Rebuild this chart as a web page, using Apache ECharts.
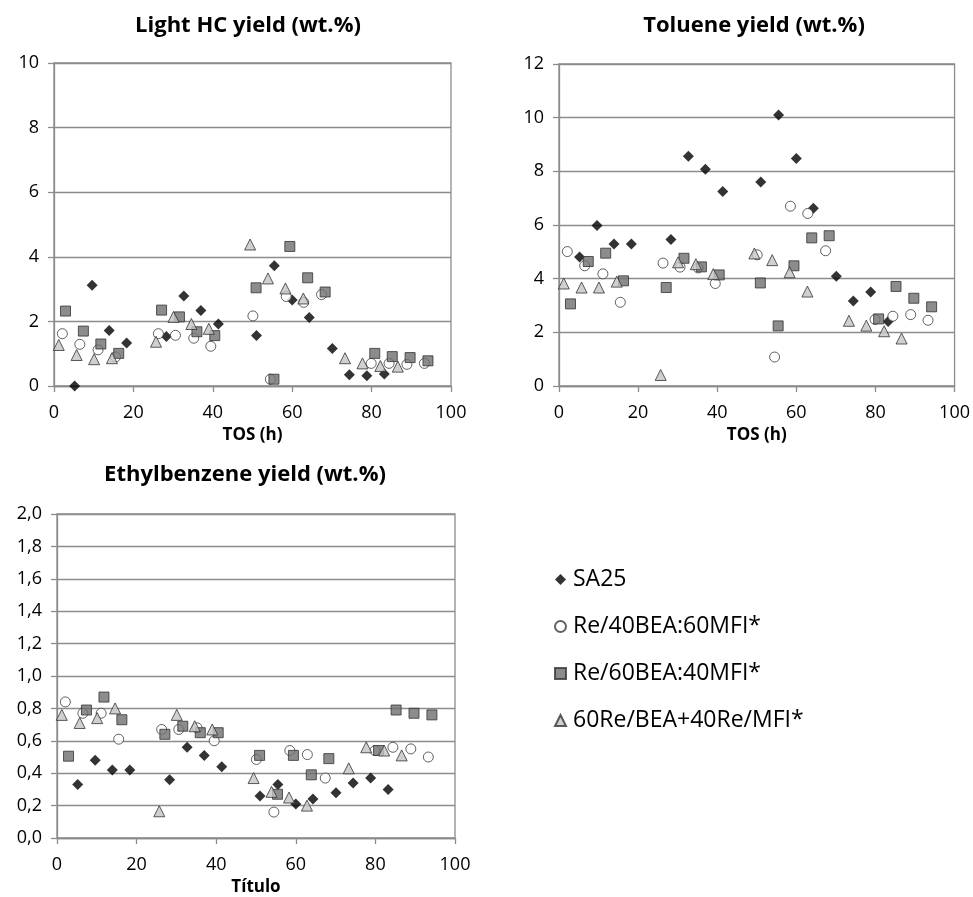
<!DOCTYPE html>
<html>
<head>
<meta charset="utf-8">
<script src="https://cdn.jsdelivr.net/npm/echarts@6/dist/echarts.min.js"></script>
<style>
  html, body { margin: 0; padding: 0; background: #fff; }
  #chart { width: 973px; height: 897px; }
</style>
</head>
<body>
<div id="chart"></div>
<script>
// Series names
const seriesNames = ['SA25', 'Re/40BEA:60MFI*', 'Re/60BEA:40MFI*', '60Re/BEA+40Re/MFI*'];

// Time on stream (h) for each catalyst
const tosSA25   = [5.2, 9.6, 13.9, 18.3, 28.3, 32.7, 37.0, 41.4, 51.0, 55.5, 60.0, 64.3, 70.1, 74.4, 78.8, 83.2];
const tosRe4060 = [2.1, 6.5, 11.1, 15.5, 26.3, 30.6, 35.2, 39.5, 50.1, 54.5, 58.5, 62.9, 67.4, 79.9, 84.4, 88.9, 93.3];
const tosRe6040 = [2.9, 7.4, 11.8, 16.3, 27.1, 31.6, 36.0, 40.5, 50.9, 55.4, 59.4, 63.9, 68.3, 80.8, 85.2, 89.7, 94.2];
const tosMix    = [1.2, 5.7, 10.1, 14.6, 25.7, 30.1, 34.6, 39.0, 49.4, 53.9, 58.3, 62.8, 73.3, 77.7, 82.2, 86.6];

// Light HC yield (wt.%)
const lightSA25   = [0, 3.12, 1.72, 1.33, 1.53, 2.79, 2.34, 1.92, 1.56, 3.72, 2.66, 2.12, 1.16, 0.35, 0.32, 0.37];
const lightRe4060 = [1.62, 1.29, 1.12, 0.9, 1.62, 1.57, 1.48, 1.23, 2.17, 0.21, 2.77, 2.59, 2.83, 0.70, 0.70, 0.67, 0.70];
const lightRe6040 = [2.32, 1.70, 1.30, 1.01, 2.35, 2.14, 1.68, 1.56, 3.04, 0.21, 4.32, 3.35, 2.91, 1.01, 0.91, 0.88, 0.78];
const lightMix    = [1.27, 0.96, 0.83, 0.86, 1.37, 2.14, 1.92, 1.77, 4.38, 3.33, 3.02, 2.71, 0.86, 0.70, 0.62, 0.60];

// Toluene yield (wt.%)
const tolSA25   = [4.81, 5.98, 5.29, 5.29, 5.46, 8.56, 8.08, 7.25, 7.60, 10.10, 8.48, 6.62, 4.09, 3.17, 3.50, 2.40];
const tolRe4060 = [5.01, 4.48, 4.18, 3.12, 4.58, 4.43, 4.40, 3.82, 4.89, 1.08, 6.70, 6.43, 5.04, 2.48, 2.60, 2.66, 2.45];
const tolRe6040 = [3.06, 4.64, 4.95, 3.92, 3.67, 4.76, 4.44, 4.14, 3.84, 2.24, 4.48, 5.52, 5.60, 2.50, 3.71, 3.27, 2.95];
const tolMix    = [3.82, 3.67, 3.67, 3.89, 0.41, 4.61, 4.54, 4.17, 4.94, 4.69, 4.24, 3.52, 2.43, 2.25, 2.04, 1.77];

// Ethylbenzene yield (wt.%)
const ebSA25   = [0.33, 0.48, 0.42, 0.42, 0.36, 0.56, 0.51, 0.44, 0.26, 0.33, 0.21, 0.24, 0.28, 0.34, 0.37, 0.30];
const ebRe4060 = [0.84, 0.77, 0.77, 0.61, 0.67, 0.67, 0.68, 0.60, 0.485, 0.16, 0.54, 0.515, 0.37, 0.54, 0.56, 0.55, 0.50];
const ebRe6040 = [0.505, 0.79, 0.87, 0.73, 0.64, 0.69, 0.65, 0.65, 0.51, 0.27, 0.51, 0.39, 0.49, 0.54, 0.79, 0.77, 0.76];
const ebMix    = [0.76, 0.71, 0.74, 0.80, 0.165, 0.76, 0.69, 0.67, 0.37, 0.285, 0.25, 0.20, 0.43, 0.56, 0.54, 0.51];

// Axis ticks
const xTicks     = [0, 20, 40, 60, 80, 100];
const lightTicks = [0, 2, 4, 6, 8, 10];
const tolTicks   = [0, 2, 4, 6, 8, 10, 12];
const ebTicks    = [0, 0.2, 0.4, 0.6, 0.8, 1.0, 1.2, 1.4, 1.6, 1.8, 2.0];

const panelTitles = ['Light HC yield (wt.%)', 'Toluene yield (wt.%)', 'Ethylbenzene yield (wt.%)'];
const xNames = ['TOS (h)', 'TOS (h)', 'Título'];

const FONT = '"Open Sans", Lato, sans-serif';
const LINE = '#8c8c8c';

const markerStyles = [
  { symbol: 'diamond', symbolSize: 11, itemStyle: { color: '#000000', borderColor: '#000000', borderWidth: 0 } },
  { symbol: 'circle', symbolSize: 10, itemStyle: { color: '#ffffff', borderColor: '#3a3a3a', borderWidth: 1 } },
  { symbol: 'rect', symbolSize: 10, itemStyle: { color: '#6f6f6f', borderColor: '#333333', borderWidth: 1 } },
  { symbol: 'triangle', symbolSize: 11, itemStyle: { color: '#c4c4c4', borderColor: '#333333', borderWidth: 1 } }
];

const tosArrays = [tosSA25, tosRe4060, tosRe6040, tosMix];
const panelData = [
  [lightSA25, lightRe4060, lightRe6040, lightMix],
  [tolSA25, tolRe4060, tolRe6040, tolMix],
  [ebSA25, ebRe4060, ebRe6040, ebMix]
];
const panelTicks = [lightTicks, tolTicks, ebTicks];

const grids = [
  { left: 54, top: 63, width: 397, height: 323 },
  { left: 559, top: 64, width: 397, height: 322 },
  { left: 57, top: 514, width: 398, height: 324 }
];

function pairs(xs, ys) {
  return ys.map((y, i) => [xs[i], y]);
}

const xAxes = grids.map((g, i) => ({
  type: 'value',
  gridIndex: i,
  min: xTicks[0],
  max: xTicks[xTicks.length - 1],
  interval: xTicks[1] - xTicks[0],
  name: xNames[i],
  nameLocation: 'middle',
  nameGap: 41,
  nameTextStyle: { fontFamily: FONT, fontWeight: 'bold', fontSize: 17, color: '#000' },
  axisLine: { show: true, lineStyle: { color: LINE, width: 1.3 } },
  axisTick: { show: true, length: 6, lineStyle: { color: LINE, width: 1.3 } },
  axisLabel: { fontFamily: FONT, fontSize: 18, color: '#000', margin: 18 },
  splitLine: { show: false }
}));

const yAxes = grids.map((g, i) => {
  const t = panelTicks[i];
  return {
    type: 'value',
    gridIndex: i,
    min: t[0],
    max: t[t.length - 1],
    interval: t[1] - t[0],
    axisLine: { show: true, lineStyle: { color: LINE, width: 1.3 } },
    axisTick: { show: true, length: 6, lineStyle: { color: LINE, width: 1.3 } },
    axisLabel: {
      fontFamily: FONT, fontSize: 18, color: '#000', margin: 15,
      formatter: i === 2 ? (v) => v.toFixed(1).replace('.', ',') : (v) => String(v)
    },
    splitLine: { show: true, lineStyle: { color: LINE, width: 1.3 } }
  };
});

const series = [];
panelData.forEach((sets, p) => {
  sets.forEach((ys, s) => {
    series.push(Object.assign({
      type: 'scatter',
      name: seriesNames[s],
      xAxisIndex: p,
      yAxisIndex: p,
      data: pairs(tosArrays[s], ys),
      z: 2 + s
    }, markerStyles[s]));
  });
});

const titles = [
  { text: panelTitles[0], left: 248, top: 15 },
  { text: panelTitles[1], left: 754, top: 15 },
  { text: panelTitles[2], left: 245, top: 464 }
].map(t => ({
  text: t.text,
  left: t.left,
  top: t.top,
  textAlign: 'center',
  padding: 0,
  textStyle: { fontFamily: FONT, fontWeight: 'bold', fontSize: 22, color: '#000' }
}));

const chart = echarts.init(document.getElementById('chart'), null, { renderer: 'canvas' });
chart.setOption({
  animation: false,
  backgroundColor: '#ffffff',
  title: titles,
  grid: grids.map(g => Object.assign({ show: true, borderColor: LINE, borderWidth: 1.3, backgroundColor: 'transparent' }, g)),
  xAxis: xAxes,
  yAxis: yAxes,
  legend: {
    data: seriesNames,
    orient: 'vertical',
    left: 554,
    top: 568,
    padding: 0,
    itemWidth: 11,
    itemHeight: 11,
    itemGap: 24,
    textStyle: { fontFamily: FONT, fontSize: 23, color: '#000', lineHeight: 23, padding: [0, 0, 0, 2] }
  },
  series: series
});
</script>
</body>
</html>
